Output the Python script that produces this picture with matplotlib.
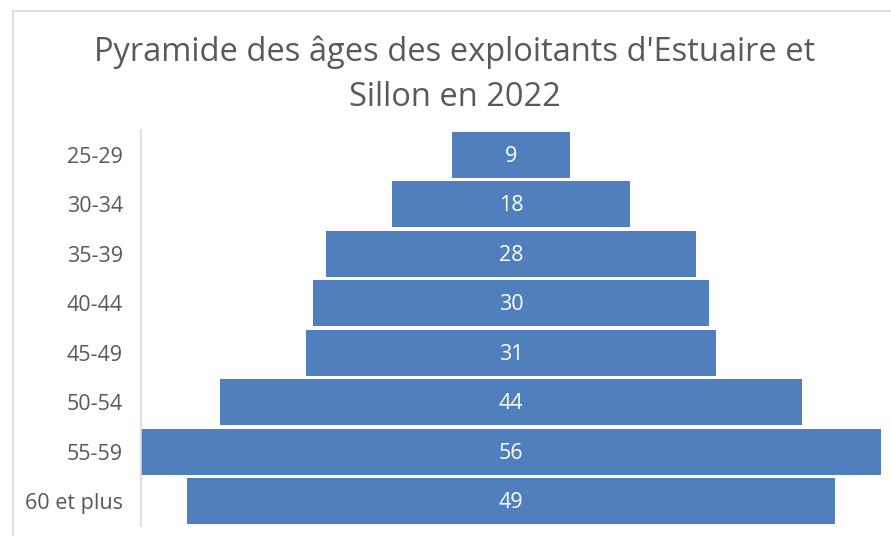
import matplotlib
matplotlib.use("Agg")
import matplotlib.pyplot as plt
from matplotlib.patches import Rectangle

categories = ["25-29", "30-34", "35-39", "40-44", "45-49", "50-54", "55-59", "60 et plus"]
values = [9, 18, 28, 30, 31, 44, 56, 49]
title = "Pyramide des âges des exploitants d'Estuaire et\nSillon en 2022"

plt.rcParams['font.family'] = ['Open Sans', 'DejaVu Sans']

W, H = 891, 536
fig = plt.figure(figsize=(W / 100, H / 100), dpi=100)
fig.patch.set_facecolor("white")

# outer chart frame
fig.add_artist(Rectangle((13 / W, -0.1), 1.2, (H - 11) / H + 0.1, transform=fig.transFigure,
                         fill=False, edgecolor="#D9D9D9", linewidth=1.2))

ax = fig.add_axes([141 / W, 10 / H, 740 / W, 396 / H])
ypos = list(range(len(categories)))
lefts = [-v / 2 for v in values]
bars = ax.barh(ypos, values, left=lefts, height=0.92, color="#4F7FBD", edgecolor="none")
for y, v in zip(ypos, values):
    ax.text(0, y + 0.03, str(v), ha="center", va="center", color="white", fontsize=15.5)

ax.set_xlim(-28, 28)
ax.set_ylim(len(categories) - 0.5, -0.5)
ax.set_yticks(ypos)
ax.set_yticklabels(categories, fontsize=15.5, color="#595959")
ax.tick_params(axis="y", length=0, pad=13)
ax.set_xticks([])
for s in ["top", "right", "bottom"]:
    ax.spines[s].set_visible(False)
ax.spines["left"].set_color("#D9D9D9")
ax.spines["left"].set_linewidth(1.2)
ax.patch.set_alpha(0)

fig.text(455 / W, (H - 75) / H, title, ha="center", va="center", fontsize=23.5,
         color="#595959", linespacing=1.5)

fig.savefig("out.png", dpi=100)
